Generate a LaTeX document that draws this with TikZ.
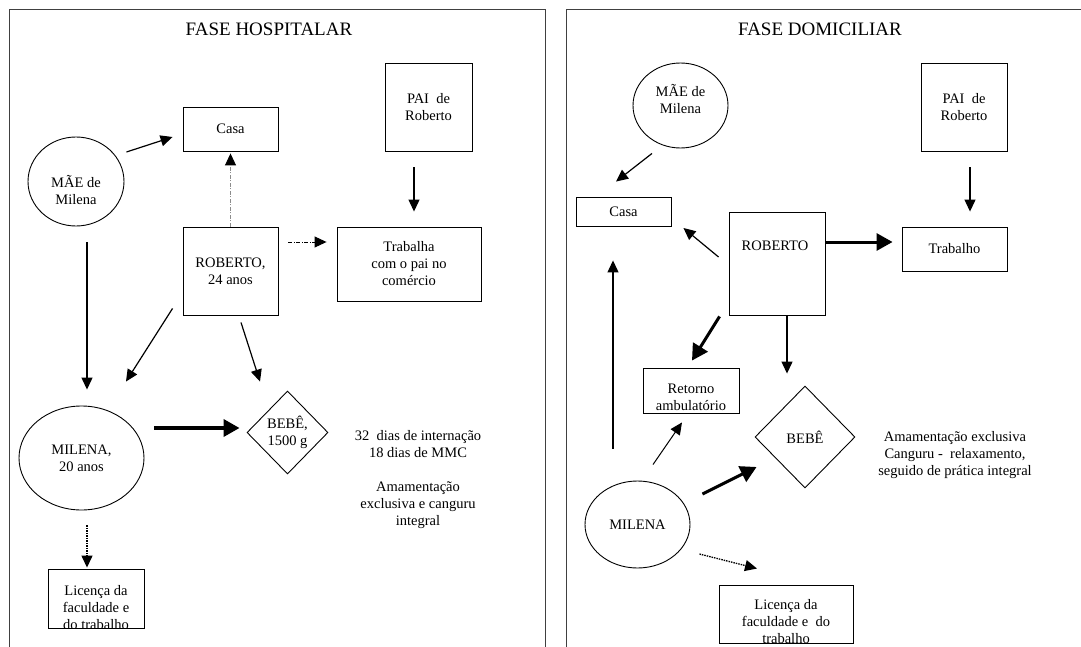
\documentclass[tikz,border=0pt]{standalone}
\usepackage{fontspec}
\setmainfont{Liberation Serif}
\usetikzlibrary{shapes.geometric,arrows.meta}

\begin{document}
\begin{tikzpicture}[x=1pt,y=-1pt,draw=black,
  font=\fontsize{14.5}{17}\selectfont,
  moldura/.style={draw=black!75,line width=1pt},
  titulo/.style={inner sep=0pt,font=\fontsize{19}{22}\selectfont},
  caixa/.style={draw,rectangle,line width=0.9pt,inner sep=1pt,align=center},
  bola/.style={draw,ellipse,line width=0.9pt,inner sep=0pt,align=center},
  losango/.style={draw,diamond,line width=0.9pt,inner sep=0pt,align=center},
  texto/.style={inner sep=0pt,align=center},
  seta/.style={line width=1.2pt,-{Triangle[length=12pt,width=11pt]}},
  setagrossa/.style={line width=3.5pt,-{Triangle[length=16pt,width=17pt]}},
  tracoponto/.style={seta,line width=0.9pt,dash pattern=on 4pt off 1.5pt on 1pt off 1.5pt},
  pontilhada/.style={seta,line width=1.3pt,dash pattern=on 1.5pt off 1pt}]
\useasboundingbox (0,0) rectangle (1081,647);

% molduras
\draw[moldura] (9,647) -- (9,10) -- (545,10) -- (545,647);
\draw[moldura] (566,647) -- (566,10) -- (1081,10);

% FASE HOSPITALAR
\node[titulo] (tituloH) at (269,29) {FASE HOSPITALAR};
\node[caixa,minimum width=95pt,minimum height=44pt] (casaH) at (230.5,129) {Casa};
\node[caixa,minimum width=87pt,minimum height=88pt] (paiH) at (428.5,107) {PAI\ \ de\\Roberto};
\node[bola,minimum width=96pt,minimum height=89pt] (maeH) at (76,181.5) {};
\node[texto] (maeHtxt) at (76,190) {MÃE de\\Milena};
\node[caixa,minimum width=95pt,minimum height=88pt] (robH) at (230.5,271) {ROBERTO,\\24 anos};
\node[caixa,minimum width=144pt,minimum height=74pt] (trabH) at (409,264) {Trabalha\\com o pai no\\comércio};
\node[bola,minimum width=125pt,minimum height=104pt] (milH) at (81.5,458) {MILENA,\\20 anos};
\node[losango,minimum width=81pt,minimum height=83pt] (bebeH) at (287.5,432.5) {BEBÊ,\\1500 g};
\node[texto] (notaH) at (418,480) {32\ \ dias de internação\\18 dias de MMC\\[17pt]Amamentação\\exclusiva e canguru\\integral};
\node[caixa,minimum width=96pt,minimum height=59pt] (licH) at (96,598.5) {};
\begin{scope}
  \clip (licH.south west) rectangle (licH.north east);
  \node[texto,anchor=north] (licHtxt) at ([yshift=-17pt]licH.north) {Licença da\\faculdade e\\do trabalho};
\end{scope}

\draw[seta] ([xshift=2pt,yshift=29.5pt]maeH.east) -- ([xshift=-10pt,yshift=-8pt]casaH.west);
\draw[tracoponto,draw=black!45,-{Triangle[length=12pt,width=11pt,color=black]},shorten >=2pt] (robH) -- (casaH);
\draw[tracoponto] ([xshift=10pt,yshift=29pt]robH.east) -- ([xshift=-10pt,yshift=22pt]trabH.west);
\draw[seta] ([xshift=-14.5pt,yshift=-16pt]paiH.south) -- ([xshift=5pt,yshift=15pt]trabH.north);
\draw[seta] ([xshift=11pt,yshift=-16pt]maeH.south) -- ([xshift=5.5pt,yshift=16pt]milH.north);
\draw[seta] ([xshift=-10pt,yshift=7pt]robH.south west) -- ([xshift=44.5pt,yshift=24pt]milH.north);
\draw[seta] ([xshift=10.5pt,yshift=-7pt]robH.south) -- ([xshift=-27.5pt,yshift=9pt]bebeH.north);
\draw[setagrossa] ([xshift=10pt,yshift=30pt]milH.east) -- ([xshift=-7pt,yshift=4.5pt]bebeH.west);
\draw[pontilhada] ([xshift=5.5pt,yshift=-15pt]milH.south) -- ([xshift=-9pt,yshift=1pt]licH.north);

% FASE DOMICILIAR
\node[titulo] (tituloD) at (820,29) {FASE DOMICILIAR};
\node[bola,minimum width=95pt,minimum height=85pt] (maeD) at (680.5,105.5) {};
\node[texto] (maeDtxt) at (680.5,99) {MÃE de\\Milena};
\node[caixa,minimum width=86pt,minimum height=88pt] (paiD) at (964,107) {PAI\ \ de\\Roberto};
\node[caixa,minimum width=95pt,minimum height=29pt] (casaD) at (623.5,211.5) {Casa};
\node[caixa,minimum width=96pt,minimum height=103pt] (robD) at (777,263.5) {};
\node[texto] (robDtxt) at (775,246) {ROBERTO};
\node[caixa,minimum width=105pt,minimum height=44pt] (trabD) at (954.5,249) {Trabalho};
\node[caixa,minimum width=96pt,minimum height=45pt] (retD) at (691,390.5) {};
\begin{scope}
  \clip ([yshift=2pt]retD.south west) rectangle (retD.north east);
  \node[texto,anchor=north] (retDtxt) at ([yshift=-16pt]retD.north) {Retorno\\ambulatório};
\end{scope}
\node[losango,minimum width=100pt,minimum height=102pt] (bebeD) at (805,437) {BEBÊ};
\node[texto] (notaD) at (955,455.5) {Amamentação exclusiva\\Canguru -\ \ relaxamento,\\seguido de prática integral};
\node[bola,minimum width=105pt,minimum height=87pt] (milD) at (637.5,524.5) {MILENA};
\node[caixa,minimum width=134pt,minimum height=58pt] (licD) at (786,614) {};
\begin{scope}
  \clip (licD.south west) rectangle (licD.north east);
  \node[texto,anchor=north] (licDtxt) at ([yshift=-15pt]licD.north) {Licença da\\faculdade e\ \ do\\trabalho};
\end{scope}

\draw[seta] ([xshift=-28.5pt,yshift=-5pt]maeD.south) -- ([xshift=-7.5pt,yshift=15pt]casaD.north);
\draw[seta] ([xshift=6pt,yshift=-16pt]paiD.south) -- ([xshift=15.5pt,yshift=15pt]trabD.north);
\draw[seta] ([xshift=-10pt,yshift=6.5pt]robD.west) -- ([xshift=12pt,yshift=-16.5pt]casaD.east);
\draw[setagrossa,line width=3pt] ([xshift=1pt,yshift=21.5pt]robD.east) -- ([xshift=-9pt,yshift=7pt]trabD.west);
\draw[seta] ([xshift=-24.5pt,yshift=32pt]milD.north) -- ([xshift=-10.5pt,yshift=-34pt]casaD.south);
\draw[setagrossa,line width=3pt] ([xshift=-9pt,yshift=-1pt]robD.south west) -- ([xshift=1pt,yshift=7pt]retD.north);
\draw[seta] ([xshift=10pt]robD.south) -- ([xshift=-18pt,yshift=12pt]bebeD.north);
\draw[seta,line width=1pt] ([xshift=15.5pt,yshift=16pt]milD.north) -- ([xshift=-9pt,yshift=-9pt]retD.south);
\draw[setagrossa,line width=3pt] ([xshift=12pt,yshift=30.5pt]milD.east) -- ([xshift=2pt,yshift=-30pt]bebeD.west);
\draw[pontilhada] ([xshift=9pt,yshift=-29.5pt]milD.east) -- ([xshift=-29pt,yshift=16pt]licD.north);
\end{tikzpicture}
\end{document}
